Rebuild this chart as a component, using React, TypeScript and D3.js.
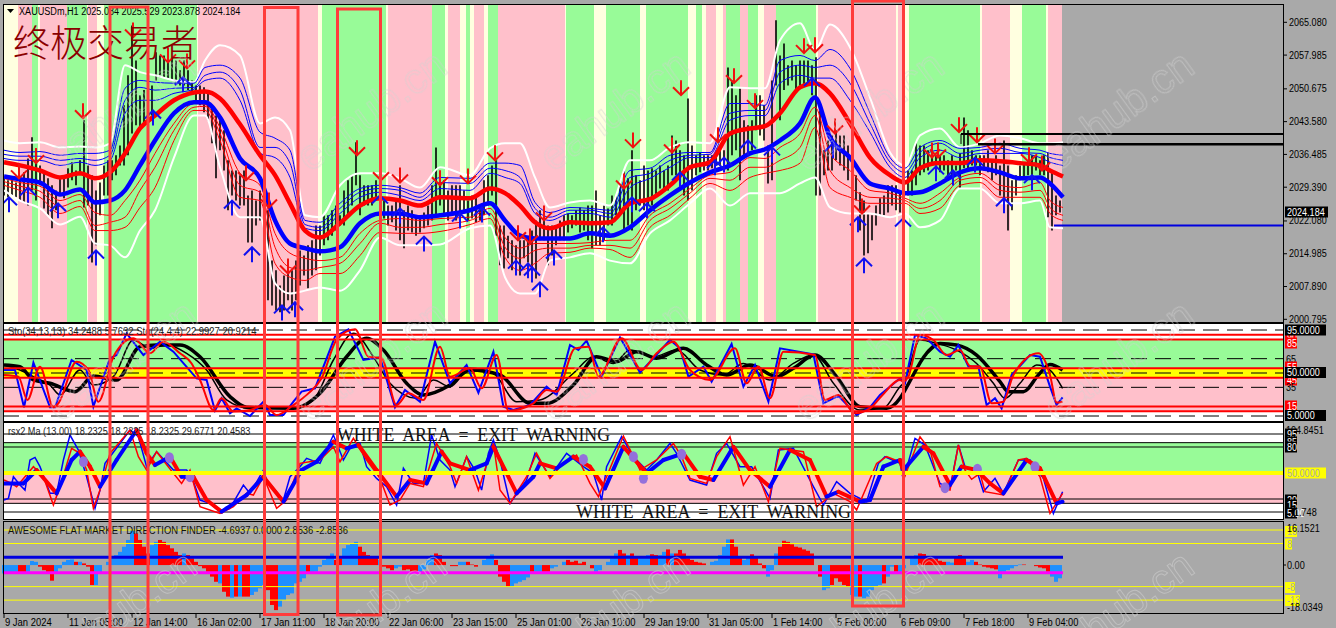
import React, { useEffect } from "react";
import * as d3 from "d3";

const W = 1336, H = 628;
const BG = "#a9a9a9", PINK = "#ffc0cb", GREEN = "#98fb98", CREAM = "#ffffe0";

// ---- background regime bands (bar index of each start, kind per band)
const bandStarts = [-0.5,7,14,17,18,31.5,41.5,42,46.5,50,96.5,97,157,159,191,192,214,220.5,222,228,231,233,235,240,242,247,280.5,281,295,301,318,321,342,346,349,351,356,359.5,361,368,372,377,380,386,406,407,446,447,450.5,452.5,488,489,503,509,521,522];
const bandKinds = "cpgcpgcpcgcpcgcpgcpcgcpcgpcgcgcgcgcpcpgpgcpgcpcpcgcpcgcp";
const bandEnd = 529;

// ---- price bars, one reading every second bar
const barHigh = [2031.5,2030.9,2031.3,2030.4,2031.7,2032.6,2035.6,2040.2,2036.3,2034.1,2032.6,2031.3,2029.8,2028.7,2031.3,2032,2033.5,2034.8,2033,2035.2,
2043.9,2034.1,2032,2028.7,2030.4,2034.1,2035.2,2035.2,2036.3,2038.4,2047.1,2053.6,2064.4,2056.8,2049.3,2050.4,2051.4,2051.4,2058.6,2057.9,
2057.9,2056.8,2057.3,2056.8,2054.7,2056.8,2054.7,2052.5,2051.4,2051.4,2051,2050.4,2047.1,2044.9,2043.9,2041.7,2035.2,2033,2033,2032,
2033,2027.6,2028.7,2026.5,2028.7,2028.3,2024.4,2013.5,2011.4,2008.1,2010.3,2012.5,2011.4,2013.5,2015.7,2014.6,2016.8,2017.9,2021.1,2021.1,
2023.3,2023.3,2024.4,2025.4,2023.3,2028.7,2030.9,2032,2039.1,2032,2029.8,2029.8,2029.8,2030.9,2027.6,2026.5,2025.4,2025.4,2026.5,2029.8,
2024.4,2025.4,2024.4,2023.3,2023.3,2023.9,2025.4,2029.8,2038,2032,2030.9,2028.7,
2029.8,2029.8,2029.8,2028.7,2026.5,2027.6,2027.6,2025.4,2030.9,2032,2034.1,2035.2,2021.1,2021.1,2018.9,2017.9,2016.8,2017.9,2017.9,2018.9,2020,2022.2,2024.4,2023.3,2021.1,2021.1,2021.1,2022.2,2023.3,2023.7,2023.3,2024.4,2025,2024.4,2025.4,2025.4,2028.7,2023.3,2025.4,2024.8,2027.6,2027.6,2029.8,2033,2031.3,2037.4,2032,2030.9,2034.1,2033,2033.5,2033,2034.1,2033,2034.1,2040.6,2039.5,2037.4,2036.3,2048.6,2038.4,2036.3,2036.9,2036.3,2036.3,2036.3,2036.9,2037.4,2037.4,2055.3,2052.5,2049.3,2050.8,2043.9,2042.8,2043.9,2049.3,2049.3,2047.1,2038.4,2052.5,2065.5,2057.9,2060.5,2055.8,2056.8,2055.8,2056.8,2056.8,2056.8,2055.8,2057.5,2046,2037.4,2039.5,2040.6,2041.7,2040.6,2040.6,2038.4,2037.4,2032,2028.3,2026.5,2023.7,2023.3,2025.4,2027,2027.6,2029.8,2029.8,2029.8,2028.7,2027.6,2033,2033,2038.9,2038.4,2038.4,2037.4,2036.3,2036.3,2036.3,2036.3,2035.2,2036.3,2034.1,2036.7,2044.5,2041.7,2037.4,2036.3,2036.3,2036.3,2037.4,2035.2,2036.3,2034.1,2039.5,2034.1,2030.9,2032,2034.1,2034.6,2035.2,2036.3,2036.3,2035.2,2036.3,2036.9,2033,2027.6,2026.5];
const barLow = [2027.6,2027.2,2027.6,2027.2,2026.5,2026.1,2025.4,2028.7,2026.5,2029.8,2024.8,2023.3,2020.5,2024.4,2027.6,2027,2029.3,2030.9,2029.8,2032,
2025,2025.4,2013.1,2016.8,2023.3,2027.6,2027.6,2030.9,2032,2034.1,2034.1,2036.3,2041,2042.8,2041.7,2042.8,2043.9,2044.9,2052.5,2053.6,
2053,2053,2052.5,2052.1,2051.4,2051.4,2050.4,2049.9,2048.2,2047.1,2045.6,2043.9,2038.9,2031.3,2037.4,2033,2024.4,2027.6,2026.5,2025.4,
2025.4,2017.4,2017.4,2021.1,2022.2,2023.3,2004.9,2003.8,2002.7,2002.3,2002.7,2004.9,2002.7,2004.9,2008.1,2010.3,2007.5,2010.3,2011.4,2014.6,
2016.8,2017.9,2018.9,2020,2021.1,2021.1,2023.3,2025.4,2029.8,2023.3,2025.4,2025.4,2025.4,2026.5,2024.4,2022.6,2021.1,2021.8,2020,2017.9,
2016.2,2020,2019.6,2018.9,2019.6,2020.5,2021.1,2022.2,2023.3,2025.4,2023.3,2022.2,
2023.3,2022.2,2023.3,2024.4,2022.2,2022.6,2021.8,2022.2,2023.3,2025.4,2027.6,2018.9,2012.5,2011.8,2014,2011.4,2013.5,2010.3,2014,2013.1,2011.4,2009.6,2017.9,2017.9,2012.5,2014.6,2016.8,2017.9,2017.9,2019.6,2020.5,2021.1,2019.6,2020,2017.9,2016.2,2016.8,2016.8,2017.9,2021.1,2021.1,2023.3,2023.3,2020,2021.1,2020,2024.4,2025.4,2024.4,2025.4,2025.4,2027.6,2029.1,2028.7,2028.7,2032,2032,2028.7,2027.6,2026.5,2028.7,2032,2032.6,2033,2033,2033.5,2034.1,2034.1,2033,2033,2036.3,2037.4,2030.9,2036.3,2037.4,2037.4,2041.7,2040.6,2039.5,2030.2,2030.9,2051.4,2043.9,2050.4,2051.4,2052.5,2050.4,2051.4,2051.4,2051.4,2049.3,2027.6,2027.6,2032,2033,2033,2035.2,2034.1,2033,2030.9,2029.8,2026.5,2020,2014.6,2015.1,2017.9,2021.1,2023.3,2023.3,2023.9,2025.4,2024.4,2023.9,2022.6,2027.6,2027.6,2029.8,2032,2032.6,2033,2034.1,2034.1,2032.6,2033,2032,2032,2033,2029.1,2033.5,2033.5,2034.1,2034.1,2032,2033,2032.6,2030.9,2032,2027.6,2026.5,2020,2024.4,2027.6,2030.9,2031.3,2032,2032,2033,2032,2032,2022.9,2020,2023.3,2023.9];

// ---- main-window indicator lines, read at these bars
const mainBars = [0,8,18,28,38,45.5,53,60.5,68,75.5,85,95,100.5,108,118,128,135.5,143,150.5,158,168,178,188,198,208,218,233,243,250.5,258,265.5,273,283,293,303,313,323,333,343,353,363,373,380.5,388,398,405.5,413,423,433,443,450.5,458,468,478,488,498,508,518,523,529.5];
const slowRed = [2034.8,2034.1,2033,2031.5,2032.4,2031.3,2032.6,2036.7,2042.1,2044.9,2048.2,2049.9,2050.1,2048.6,2043,2036.3,2032,2025.9,2020,2018.5,2021.6,2025.4,2027,2026.5,2025.4,2027.2,2027,2029.1,2028.1,2025.4,2021.8,2020.5,2021.8,2021.6,2021.8,2025.9,2026.8,2029.8,2033.7,2034.8,2041,2042.1,2042.6,2045.4,2051,2051.9,2049.7,2043.2,2035.8,2032,2030.4,2033.5,2034.6,2034.6,2035.2,2035,2034.6,2034.1,2033,2031.7];
const slowBlue = [2031.7,2031.1,2030.4,2027.8,2028.9,2026.1,2026.5,2028.7,2034.1,2039.5,2045.4,2047.8,2047.8,2044.5,2035.6,2031.3,2022.2,2017.2,2016.2,2015.5,2016.4,2021.6,2023.7,2023.7,2022.9,2023.3,2024.4,2025.9,2022.2,2018.9,2018.3,2018.3,2018.3,2019.4,2018.9,2020.7,2024.4,2027.6,2030.4,2032.6,2034.1,2036.7,2037.6,2039.5,2043.2,2048.8,2040.2,2035.8,2030.2,2029.1,2028.1,2028.3,2030.2,2032.6,2033.5,2032.6,2031.3,2031.5,2030.2,2027.2];
const upper1 = [2035.6,2035.2,2035.2,2034.1,2034.8,2034.1,2035.2,2045.4,2048.2,2048.2,2049.7,2050.6,2052.5,2053,2048.2,2036.7,2035.8,2031.5,2020.5,2020,2023.7,2027.2,2028.3,2027.6,2026.5,2029.1,2028.7,2032.4,2031.5,2030.2,2023.7,2022.2,2023.7,2023.7,2022.9,2029.3,2031.3,2033.7,2035.8,2035.8,2043.9,2044.9,2044.9,2051.9,2053.6,2053,2053,2048.2,2041.3,2033.7,2031.5,2035.8,2037.4,2035.8,2036.7,2036.7,2036.7,2035.8,2034.8,2034.1];
const upper2 = [2036.5,2036.1,2036.1,2035.2,2035.6,2035.2,2036.3,2048.2,2051,2050.4,2050.8,2051,2053.6,2054.3,2050.4,2038,2038,2034.6,2021.3,2020.7,2024.8,2028.3,2029.1,2028.7,2027.2,2030.4,2030.2,2033.5,2033,2031.5,2024.8,2022.9,2024.4,2024.4,2023.7,2031.5,2032.4,2035.2,2036.3,2036.5,2045.4,2046,2046,2054.3,2055.8,2055.3,2055.8,2051.9,2043.2,2034.8,2032.6,2036.9,2038.9,2036.7,2037.4,2037.8,2036.9,2036.7,2035.8,2035.2];
const upper3 = [2037.4,2036.9,2037.1,2036.3,2036.7,2036.7,2037.4,2050.8,2052.5,2052.1,2051.9,2051.9,2055.3,2055.8,2053,2041.3,2040,2037.4,2022.2,2021.8,2025.9,2029.1,2029.8,2029.3,2028.1,2031.5,2031.3,2034.6,2034.6,2034.1,2026.1,2023.9,2025,2024.8,2024.4,2033,2033.5,2036.3,2036.9,2036.9,2047.5,2047.5,2047.1,2056.8,2057.9,2056.8,2059.2,2055.1,2045.4,2035.8,2033.5,2038,2039.5,2037.8,2038,2038.9,2037.8,2037.4,2036.7,2036.3];
const upperWhite = [2039.5,2038.9,2039.1,2038,2038.2,2038,2038.9,2055.8,2054.3,2053.6,2052.5,2052.1,2056.8,2060.1,2057.9,2043.2,2044.5,2041.7,2023.3,2022.9,2029.8,2032.4,2032.4,2031.3,2029.3,2033.7,2032,2037.8,2038.9,2038.9,2031.5,2025,2026.1,2026.5,2025.4,2035.2,2035.2,2038,2039.1,2038.9,2051,2050.8,2050.8,2061.2,2064.9,2059,2064.6,2059.7,2048.8,2036.9,2034.1,2040.6,2042.1,2038,2038.9,2040.6,2040,2038.9,2038.9,2039.1];
const lower1 = [2031.3,2030.4,2029.6,2026.5,2027.8,2023.9,2023.3,2026.5,2030.9,2036.7,2043.2,2047.5,2047.3,2042.3,2032.4,2029.8,2019.4,2015.1,2014,2013.5,2014.2,2019.4,2022.2,2022.6,2022.2,2022.6,2022.9,2024.8,2018.5,2016.2,2017.2,2017.2,2017.2,2017.4,2017.9,2017.9,2023.3,2025.9,2029.1,2032,2032.6,2035.8,2035.6,2038,2041,2046.7,2036.7,2033,2028.7,2028.1,2027,2025.9,2028.1,2031.5,2032.4,2029.8,2029.3,2030.4,2026.5,2025];
const lower2 = [2030.6,2029.6,2028.5,2025.2,2026.5,2021.1,2021.8,2022.9,2028.7,2033.7,2041.7,2046.7,2046.9,2041,2029.8,2028.3,2016.4,2012,2011.4,2012,2012.9,2017.2,2021.6,2020.7,2020.7,2021.3,2022.2,2023.7,2016.4,2014,2015.7,2016.2,2016.2,2016.8,2016.8,2016.2,2022.2,2024.8,2028.1,2031.3,2030.9,2033.7,2033.7,2035.2,2038,2044.9,2033,2029.3,2027.2,2027,2026.5,2024.8,2026.5,2030.9,2031.5,2028.7,2028.3,2028.7,2025,2023.3];
const lower3 = [2029.8,2028.7,2027.2,2023.7,2025.2,2020,2020,2020.7,2025,2029.3,2039.5,2046,2046,2039.5,2027.2,2026.5,2012.9,2009.9,2009.2,2010.7,2010.7,2014.6,2019.6,2019.4,2019.4,2019.8,2021.3,2022.6,2014.2,2011.4,2012.9,2015.1,2015.3,2016.2,2015.9,2014.2,2020.7,2023.3,2027,2030.2,2028.7,2031.5,2032.4,2033,2034.6,2042.3,2029.3,2027.2,2025.9,2025.9,2025.9,2023.7,2024.8,2029.8,2030.4,2027.2,2027.2,2027.2,2023.7,2022.2];
const lowerWhite = [2028.7,2026.5,2024.8,2021.3,2023,2017.2,2016.8,2014.2,2020,2024.4,2035.8,2044.9,2044.9,2033.7,2022.9,2022.9,2008.6,2006.4,2007,2007.7,2007,2011.4,2018.5,2016.8,2016.8,2017,2020.5,2021.1,2009.9,2006.4,2006.4,2013.5,2014.2,2015.1,2013.5,2012.9,2019.4,2022.2,2025.9,2029.1,2025.4,2028.1,2028.1,2028.1,2030.2,2031.5,2025,2023.7,2023.7,2022.9,2023.7,2020.7,2022.2,2029.1,2029.1,2025.9,2025.9,2026.5,2020.7,2020.5];

// ---- signal arrows
const sellBars = [7.5,16,39.5,64.5,82,91.5,121,132.5,142,176.5,188.5,198,218,232,245.5,257,263,270,310,314.5,334,338.5,357,365,375.5,400,405.5,415.5,429,464,467,477.5,486.5,495.5,512.5,519];
const sellPrices = [2031.3,2034.6,2044.3,2061.8,2056.4,2055.1,2030.9,2025,2010.7,2036.3,2030.9,2030.4,2029.8,2030.2,2035.2,2017.9,2017.2,2022.2,2029.1,2038,2036.9,2049.3,2039.1,2051.9,2046.5,2058.4,2058.6,2041,2023.7,2035.8,2035.8,2041.3,2039.1,2036.7,2034.8,2033];
const buyBars = [2.5,12,27,46,74.5,89.5,114,124,139,145.5,188,198,210,228,239,256,262,264,268,275,299.5,314,321.5,338,355.5,360,372,384,404,414.5,427,430,449.5,466,474.5,485.5,500,514];
const buyPrices = [2027.2,2029.3,2025.9,2015.7,2046,2053.2,2026.5,2016.4,2003.8,2004.5,2027.6,2024.8,2018.7,2023.7,2025,2013.5,2012.9,2012,2008.8,2015.7,2020.7,2027.2,2025.9,2032.6,2035.2,2035.8,2039.5,2038,2053,2038.9,2022.9,2014,2022.6,2033.9,2033,2035.8,2027,2032];

// ---- stochastic panel
const stoFastBars = [0,5.5,10,14.7,23,25.5,33.8,41.3,44.7,53,56.3,61.3,69.7,78,84.7,96.3,101.3,105.5,108.8,113,116.3,123,129.7,133,139.7,144.7,148.8,155.5,165.5,172.2,179.7,188,195.5,200.5,208,215.5,223,231.3,237.2,244.7,249.7,254.7,263,271.3,276.3,283,287.2,291.3,298.8,308,318,324.7,333,338,342.2,349.7,353.8,363.8,369.7,375.5,382.2,388,404.7,409.7,417.2,426.3,433,438,448,450.5,455.5,461.3,468,473,477.2,482.2,487.2,491.3,495.5,498.8,503.8,513,518,523,526.3,529.3];
const stoFast = [53.1,53.1,14.1,60.8,14.1,14.1,63.6,53.1,14.8,65.4,68.8,91.5,68.8,82.8,72.3,44.4,42.7,10.6,23.5,7.8,13,5,20,6,6,20,30.5,34,88,95.7,63.6,66.4,14.1,32.2,20,82.8,39.2,58.4,29.4,72.3,14.8,11.3,16.5,35.7,27,79.3,74,83.8,46.2,87.3,50.4,65.4,84.6,75.8,46.2,56.7,41,80.4,35.7,58.4,20,75.8,69.5,18.3,26,6,14.1,27,44.4,39.2,89.8,86.3,72.3,67,79.3,56.7,56.7,16.5,23.5,13,48,68.8,67,35.7,16.5,24.5];
const stoSignalBars = [0,7.2,11.7,18,24.7,27.2,36.3,42.2,47.2,54.7,64.7,73,79.7,88,93.8,98,104.7,108.8,114.7,123,130.5,136.3,144.7,152.2,158.8,166.3,175.5,182.2,188.8,196.3,202.2,209.7,218,223,233,238.8,246.3,252.2,264.7,271.3,276.3,285.5,292.2,297.2,308.8,318.8,326.3,334.7,343,353,365.5,371.3,377.2,383,389.7,405.5,410.5,417.2,425.5,433,438.8,448,449.7,452.2,458,464.7,471.3,478,483,488,493.8,499.7,504.7,517.2,523,526.3,529.3];
const stoSignal = [47.9,46.2,21.8,56.6,14.1,18.3,61.9,53.1,20,67,86.3,70.6,82.8,70.6,60,42.7,11.3,23.5,9.6,11.3,16.5,6,16.5,28.7,44.4,84.6,95.7,67,65.4,16.5,28.7,21.8,77.6,46.2,54.9,34,68.8,10.6,18.3,32.2,30.5,75.8,77.6,46.2,86.3,53.1,70.6,82.8,53.1,42.7,75.8,39.2,56.7,23.5,72.3,68.8,21.8,27,7.8,13,26,42.7,41,46.2,89.8,84.6,68.8,74,57.3,56.7,18.3,20,48,70.6,48,19,20];
const stoSlowBars = [0,8,14.7,23,35.5,44.7,56.3,68,76.3,88,98,113,121.3,144.7,158,171.3,181.3,189.7,201.3,209.7,223,233,248,263,271.3,284.7,296.3,306.3,316.3,326.3,339.7,351.3,361.3,373,386.3,394.7,405.5,416.3,428,441.3,448,450.5,461.3,468,476.3,486.3,498,502.2,509.7,517.2,523,529.3];
const stoSlow = [58.4,56.6,42.7,39.2,30.5,46.9,42.7,77.6,79.3,79.3,67,25.3,14.1,13,28.7,67,86.3,74,39.2,27,37.4,53.1,47.9,18.3,18.3,37.4,67,61.9,72.3,65.4,75.8,58.4,47.9,58.4,46.2,54.9,68.8,46.2,14.8,13,23.5,32.2,70.6,81,79.3,68.8,41,30.5,30.5,48,59,53.1];
const stoSlowThinBars = [0,8,16.3,23,28,38,44.7,54.7,64.7,73,81.3,91.3,101.3,111.3,123,144.7,154.7,164.7,174.7,184.7,193,206.3,214.7,223,233,244.7,256.3,268,284.7,294.7,304.7,313,324.7,336.3,348,359.7,369.7,383,394.7,404.7,414.7,428,439.7,448,449.7,458,466.3,476.3,486.3,494.7,500.5,508,516.3,523,529.3];
const stoSlowThin = [58.4,53.1,44.4,37.4,27,53.1,37.4,46.2,84.6,75.8,79.3,70.6,53.1,21.8,13,13,21.8,63.6,91.5,67,39.2,23.5,42.7,35.7,54.9,49.7,20,21.8,49.7,67,60,74,67,74,53.1,47.9,60,42.7,60,68.8,39.2,11.3,13,35.7,39.2,84.6,81,74,60,39.2,23.5,39.2,58.4,53.1,34];

// ---- rsx panel
const rsxFastBars = [0,2.2,4.7,8,10.5,13,15.5,18,23,26.3,29.7,33,37.2,41.3,45.5,48,50.5,53,63,67.2,71.3,76.3,84.7,91.3,93.8,98,103,108,113,119.7,123,129.7,131.3,139.7,143,148,151.3,158,164.7,169.7,173,178,181.3,186.3,191.3,196.3,199.7,204.7,209.7,213.8,218,223,225.5,228.8,231.3,235.5,238.8,242.2,244.7,248,253,261.3,265.5,273,281.3,289.7,294.7,298.8,301.3,308.8,314.7,321.3,326.3,333,336.3,343,351.3,356.3,361.3,368,373.8,383,387.2,394.7,404.7,409.7,416.3,423,431.3,437.2,440.5,448,449.7,455.5,460.5,468,473,477.2,480.5,486.3,489.7,495.5,499.7,507.2,513,519.7,524.7,529.3];
const rsxFast = [18.8,20.7,45.7,36.1,30.3,65,68,57.3,26.5,26.5,65,93.8,76.5,45.7,9.2,30.3,61.1,68.8,99.6,91.9,57.3,74.6,53.4,53.4,45.7,18.8,15,5.4,9.2,36.1,26.5,53.4,41.9,18.8,45.7,57.3,66.9,61.1,93.8,65,78.4,84.2,57.3,43.8,34.2,13,55.4,38,38,93.8,65,53.4,34.2,53.4,68.8,53.4,30.3,72.7,88,65,15,41.9,72.7,45.7,72.7,57.3,49.6,18.8,57.3,91.9,68.8,53.4,65,84.2,72.7,41.9,36.1,72.7,84.2,57.3,57.3,20.7,76.5,78.4,34.2,13,40,26.5,16.9,61.1,68.8,61.1,41.9,90,82.3,38,32.3,82.3,57.3,53.4,28.4,43.8,26.5,65,65,43.8,3.4,28.4];
const rsxSignalBars = [0,3.8,6.3,14.7,19.7,24.7,28,33.8,38,41.3,44.7,48,53,63,67.2,71.3,76.3,84.7,88.8,93,98,108,114.7,121.3,124.7,129.7,136.3,141.3,148,158,164.7,168,174.7,181.3,188,193,198,203,209.7,216.3,223,226.3,231.3,237.2,244.7,248,253,261.3,266.3,273,278,286.3,293,297.2,309.7,318,326.3,334.7,338.8,343,351.3,356.3,363,369.7,375.5,382.2,388,399.7,406.3,414.7,423,426.3,436.3,441.3,448,449.7,458,463,468,473,477.2,480.5,483.8,488,490.5,499.7,507.2,511.3,518,523,529.3];
const rsxSignal = [41.9,38,34.2,57.3,45.7,13,34.2,78.4,72.7,53.4,9.2,30.3,72.7,99.6,68.8,53.4,74.6,49.6,38,53.4,11.1,3.4,11.1,26.5,24.6,45.7,9.2,18.8,61.1,65,80.3,63,90,65,43.8,13,18.8,38,34.2,84.2,57.3,38,68.8,30.3,84.2,30.3,15,45.7,72.7,43.8,57.3,70.7,38,22.7,92.6,53.4,65,84.2,68.8,43.8,38,68.8,91.9,36.1,57.3,16.9,78.4,74.6,11.1,26.5,16.9,7.3,61.1,68.8,63,41.9,91.9,76.5,34.2,30.3,82.3,53.4,42.7,49.6,28.4,24.6,65,66.9,45.7,3.4,26.5];
const rsxThickBars = [0,9.7,16.3,26.3,33.8,38,43,48,56.3,66.3,71.3,75.5,83,88.8,94.7,101.3,108.8,111.3,121.3,129.7,139.7,148.8,156.3,164.7,171.3,177.2,186.3,196.3,203,211.3,218.8,223,233,241.3,244.7,256.3,264.7,268,276.3,284.7,293,300.5,309.7,321.3,329.7,339.7,348,354.7,364.7,373,383,393,403,411.3,417.2,428,433,439.7,448,449.7,459.7,464.7,473,478.8,486.3,493,499.7,511.3,518,526.3,529.3];
const rsxThick = [38,38,53.4,26.5,65,74.6,57.3,34.2,65,99.6,72.7,59.2,68.8,45.7,45.7,18.8,5.4,9.2,24.6,45.7,16.9,53.4,63,86.1,78.4,82.3,53.4,22.7,41.9,38,74.6,61.1,53.4,61.1,80.3,26.5,45.7,61.1,55.4,68.8,57.3,32.3,80.3,49.6,65,72.7,45.7,41.9,80.3,53.4,34.2,76.5,65,22.7,28.4,16.9,18.8,57.3,65,53.4,80.3,72.7,36.1,57.3,53.4,38,26.5,65,55.4,15,16.9];
const dotBars = [39.7,82.7,93,289.7,314.7,319.7,338.8,470.5,486.7,515.5];
const dotValues = [63,67.6,45.7,65.7,68.8,43.8,71.5,33,54.2,57.3];

// ---- awesome flat market histogram, one reading every second bar
const aoValues = [-3.1,-3.1,-3.1,-3.1,-3.1,-3.1,-2.5,1.5,1.2,-0.6,-1.9,-3.1,-5.8,-3.1,-1.2,1.2,1.9,2.1,1.2,1.2,0.6,-0.6,-7.4,-7.4,-3.1,0,1.2,3.1,3.7,4.9,6.8,9.3,13,11.7,9.3,6.8,4.3,7.4,8.6,9.3,8.6,7.4,6.2,4.9,3.7,4.3,3.7,2.5,1.2,-0.4,-1.2,-2.5,-4.3,-6.2,-6.8,-9.9,-11.7,-12.1,-11.7,-11.7,-11.7,-11.7,-11.1,-9.9,-8.6,-7.4,-9.3,-14.8,-16.7,-15.4,-13,-11.1,-10.5,-6.8,-6.2,-4.9,-3.1,-3.1,-2.5,-0.6,1.9,3.1,4.3,1.9,2.5,6.2,7.4,8,8.6,6.8,4.9,3.7,3.3,3.1,1.9,-0.6,-1.2,-1.9,-1.2,-0.6,-1.9,-1.6,-2.5,-2.5,-2.5,-1.6,1.9,3.7,4.3,3.7,1.2,0,
-0.4,-0.4,1.2,1.2,1.2,0.2,-0.6,0,1.9,3.1,4,1.9,-4.3,-6.2,-8,-8,-6.8,-6.2,-5.6,-4.6,-2.5,-2.5,-2.5,-2.5,-2.5,-1.2,-0.6,0,1.2,1.9,1.2,1.6,0.6,1.2,0,-1.2,-2.5,-1.9,0,1.2,2.5,4.3,5.6,4.3,3.7,4.3,2.8,3.1,3.1,3.7,4,3.7,3.7,4.9,5.8,4.3,4.3,5.6,4.3,2.5,1.9,1.2,0.9,0.6,0,1.2,1.6,3.7,6.8,9.5,9.5,6.8,3.1,1.9,3.1,4,3.1,0.6,-1.2,-4.3,-1.9,4.3,6.8,9,8.6,7.7,6.8,6.5,5.8,5.3,4.3,0,-4.3,-9.3,-8.6,-7.4,-4.9,-6.2,-7.4,-8,-11.1,-11.7,-11.7,-12.3,-11.7,-9.3,-8,-7.4,-6.8,-4.3,-0.6,-2.5,-2.5,-1.2,0,2.5,3.7,4.3,4.1,3.1,2.8,2.5,1.6,1.2,1.2,0.9,3.1,3.7,2.5,1.2,1.9,1.2,0.2,-0.6,-0.9,-1.2,-1.6,-4.9,-2.5,-1.9,-1.2,-0.4,0.2,0.2,0,0,-0.4,-0.9,-1.2,-2.5,-4.3,-6.2,-4.9];
const aoKinds = "bbbbrrbbbrrrrbbbbbrbrrrbbbbbbbbbbrrrrbbrrrrrrbrrrrrrrrbrrbrbrrbbbbrrrbbbbbbbrbbbbbbrrbbbbrrrrrbrrrbbrrrrbbbbrrrrrrbbrrrbbbbrrrrbbbbbrbbrrbbbbrrrrrrrbbbbbbrrbrrbbbrrbbrbrrrrrrrrbbbbbbrrrbbrrrrbbbrrrrrrrrrrrbbrrrrrbbrbbbbbrbbrbbbbbrrrrrrrbbrrrbbrrrrrrbbbbbbrrrrrrrbb";

// ---- levels and labels
const priceTicks = [2065.08,2057.985,2050.675,2043.58,2036.485,2029.39,2022.08,2014.985,2007.89,2000.795];
const timeLabels = ["9 Jan 2024","11 Jan 05:00","12 Jan 14:00","16 Jan 02:00","17 Jan 11:00","18 Jan 20:00","22 Jan 06:00","23 Jan 15:00","25 Jan 01:00","26 Jan 10:00","29 Jan 19:00","31 Jan 05:00","1 Feb 14:00","5 Feb 00:00","6 Feb 09:00","7 Feb 18:00","9 Feb 04:00"];
const stoDashed = [95,65,50,35,5];
const stoRed = [90,85,55,45,15,10];
const rsxLevels = [95,85,80,20,15,5];
const aoLevels = [13,8,-8,-13];
const aoBlue = 2.8536, aoMagenta = -2.8536;
const resistance1 = 2040.9, resistance2 = 2038.7, supportLine = 2021.1;

// ---- layout
const xBar = d3.scaleLinear().domain([0, 530]).range([4, 1064]);
const yPrice = d3.scaleLinear().domain([2000.795, 2065.08]).range([319.3, 22.3]);
const ySto = d3.scaleLinear().domain([5, 95]).range([416, 330]);
const yRsx = d3.scaleLinear().domain([5, 95]).range([512, 434]);
const yAo = d3.scaleLinear().domain([-18.0349, 16.1521]).range([613.7, 521.5]);
const left = 3, right = 1283;

const SANS = "'Liberation Sans', Arial, sans-serif";
const makeLine = (bars: number[], vals: number[], y: any, curve: any = d3.curveMonotoneX) =>
  d3.line<number>().x((_, i) => xBar(bars[i])).y((v) => y(v)).curve(curve)(vals) as string;

const charW = (c: string) => /[0-9]/.test(c) ? 5 : /[.: ]/.test(c) ? 2.7 : /[,()\-]/.test(c) ? 3 : /[A-Z]/.test(c) ? 6.3 : 5;
const T = ({ x, y, s, fill = "#000", anchor = "start" }: any) => (
  <text x={x} y={y} fill={fill} fontFamily={SANS} fontSize={10} textAnchor={anchor} textLength={[...s].reduce((a: number, c: string) => a + charW(c), 0)} lengthAdjust="spacingAndGlyphs">{s}</text>
);
const Tag = ({ y, s, bg, fg, x = 1285, w }: any) => (
  <g>
    <rect x={x} y={y - 5.5} width={w} height={11} fill={bg} />
    <T x={x + 2} y={y + 3.5} s={s} fill={fg} />
  </g>
);

function BarsLayer() {
  return (
    <g stroke="#000" strokeWidth={1.6}>
      {barHigh.map((h, i) => (
        <line key={i} x1={xBar(i * 2)} x2={xBar(i * 2)} y1={yPrice(h)} y2={yPrice(barLow[i])} />
      ))}
    </g>
  );
}

function Thick({ bars, vals, y }: any) {
  return (
    <g fill="none" strokeWidth={4} strokeLinecap="round">
      {vals.slice(1).map((v: number, i: number) => (
        <line key={i} x1={xBar(bars[i])} y1={y(vals[i])} x2={xBar(bars[i + 1])} y2={y(v)} stroke={v < vals[i] ? "#ff0000" : "#0000ff"} />
      ))}
    </g>
  );
}

export default function App() {
  useEffect(() => { document.body.style.margin = "0"; document.body.style.background = BG; }, []);
  const bandColor: any = { c: CREAM, p: PINK, g: GREEN };
  const wm: any[] = [];
  [60, 310, 553, 807, 1057].forEach((x) => [173, 423, 673].forEach((y) => wm.push([x, y])));
  return (
    <svg width={W} height={H} viewBox={`0 0 ${W} ${H}`} style={{ display: "block", background: BG }}>
      <defs>
        <clipPath id="cMain"><rect x={left} y={4} width={right - left} height={318} /></clipPath>
        <clipPath id="cSto"><rect x={left} y={324} width={right - left} height={97} /></clipPath>
        <clipPath id="cRsx"><rect x={left} y={423} width={right - left} height={96} /></clipPath>
      </defs>

      {/* main window */}
      <g clipPath="url(#cMain)">
        {bandStarts.map((s, i) => {
          const e = i + 1 < bandStarts.length ? bandStarts[i + 1] : bandEnd;
          return <rect key={i} x={xBar(s)} y={4} width={xBar(e) - xBar(s)} height={318} fill={bandColor[bandKinds[i]]} />;
        })}
        <BarsLayer />
        <g fill="none">
          <path d={makeLine(mainBars, upperWhite, yPrice)} stroke="#fff" strokeWidth={2} />
          <path d={makeLine(mainBars, lowerWhite, yPrice)} stroke="#fff" strokeWidth={2} />
          {[upper1, upper2, upper3].map((u, i) => <path key={i} d={makeLine(mainBars, u, yPrice)} stroke="#0000ff" strokeWidth={1} />)}
          {[lower1, lower2, lower3].map((u, i) => <path key={i} d={makeLine(mainBars, u, yPrice)} stroke="#ff0000" strokeWidth={1} />)}
          <path d={makeLine(mainBars, slowRed, yPrice)} stroke="#ff0000" strokeWidth={4.5} />
          <path d={makeLine(mainBars, slowBlue, yPrice)} stroke="#0000ff" strokeWidth={4.5} />
        </g>
        <g fill="none" stroke="#f01010" strokeWidth={2}>
          {sellBars.map((b, i) => {
            const x = xBar(b), y = yPrice(sellPrices[i]);
            return <path key={i} d={`M${x},${y - 15}V${y}M${x - 8},${y - 8}L${x},${y}L${x + 8},${y - 8}`} />;
          })}
        </g>
        <g fill="none" stroke="#1010f0" strokeWidth={2}>
          {buyBars.map((b, i) => {
            const x = xBar(b), y = yPrice(buyPrices[i]);
            return <path key={i} d={`M${x},${y + 15}V${y}M${x - 8},${y + 8}L${x},${y}L${x + 8},${y + 8}`} />;
          })}
        </g>
        <path d={`M${xBar(478.5)},${yPrice(resistance1) + 10}V${yPrice(resistance1)}H${right}`} fill="none" stroke="#000" strokeWidth={1} />
        <line x1={xBar(478.5)} x2={right} y1={yPrice(resistance1)} y2={yPrice(resistance1)} stroke="#000" strokeWidth={2} />
        <line x1={xBar(487)} x2={right} y1={yPrice(resistance2)} y2={yPrice(resistance2)} stroke="#000" strokeWidth={2.5} />
        <line x1={xBar(525)} x2={right} y1={yPrice(supportLine)} y2={yPrice(supportLine)} stroke="#0000e0" strokeWidth={2} />
      </g>
      <text x={13} y={57} fill="#8b0000" fontFamily="'Noto Sans CJK SC'" fontWeight={300} fontSize={37}>终极交易者</text>
      <path d="M7,9H14L10.5,13Z" fill="#000" />
      <T x={19} y={15} s="XAUUSDm,H1  2025.084 2025.529 2023.878 2024.184" />

      {/* stochastic window */}
      <g clipPath="url(#cSto)">
        <rect x={left} y={324} width={right - left} height={97} fill="#fff" />
        <rect x={left} y={ySto(85)} width={right - left} height={ySto(55) - ySto(85)} fill={GREEN} />
        <rect x={left} y={ySto(55)} width={right - left} height={ySto(45) - ySto(55)} fill="#ffff00" />
        <rect x={left} y={ySto(45)} width={right - left} height={ySto(10) - ySto(45)} fill={PINK} />
        {stoDashed.map((v) => <line key={v} x1={left} x2={right} y1={ySto(v)} y2={ySto(v)} stroke="#000" strokeWidth={1} strokeDasharray="16 8" />)}
        <g fill="none">
          <path d={makeLine(stoSlowBars, stoSlow, ySto)} stroke="#000" strokeWidth={3.5} />
          <path d={makeLine(stoSlowThinBars, stoSlowThin, ySto)} stroke="#000" strokeWidth={1.5} />
          <path d={makeLine(stoFastBars, stoFast, ySto, d3.curveLinear)} stroke="#0000ff" strokeWidth={2} />
          <path d={makeLine(stoSignalBars, stoSignal, ySto, d3.curveMonotoneX)} stroke="#ff0000" strokeWidth={2} />
        </g>
        {stoRed.map((v) => <line key={v} x1={left} x2={right} y1={ySto(v)} y2={ySto(v)} stroke="#ff0000" strokeWidth={2} />)}
      </g>
      <T x={8} y={335} s="Sto(34,13,13) 34.2488 5.7632  Sto(24,4,4) 22.9927 20.9214" fill="#222" />

      {/* rsx window */}
      <g clipPath="url(#cRsx)">
        <rect x={left} y={423} width={right - left} height={96} fill="#fff" />
        <rect x={left} y={yRsx(85)} width={right - left} height={yRsx(50) - yRsx(85)} fill={GREEN} />
        <rect x={left} y={yRsx(50)} width={right - left} height={yRsx(15) - yRsx(50)} fill={PINK} />
        {rsxLevels.map((v) => <line key={v} x1={left} x2={right} y1={yRsx(v)} y2={yRsx(v)} stroke="#000" strokeWidth={1} />)}
        <g fill="none">
          <path d={makeLine(rsxFastBars, rsxFast, yRsx, d3.curveLinear)} stroke="#0000ff" strokeWidth={1.5} />
          <path d={makeLine(rsxSignalBars, rsxSignal, yRsx, d3.curveLinear)} stroke="#ff0000" strokeWidth={1.5} />
        </g>
        <Thick bars={rsxThickBars} vals={rsxThick} y={yRsx} />
        {dotBars.map((b, i) => <ellipse key={i} cx={xBar(b)} cy={yRsx(dotValues[i])} rx={4.5} ry={5.5} fill="#9370db" />)}
        <line x1={left} x2={right} y1={yRsx(50)} y2={yRsx(50)} stroke="#ffff00" strokeWidth={4} />
      </g>
      <T x={8} y={435} s="rsx2 Ma (13.00) 18.2325 18.2325 18.2325 29.6771 20.4583" fill="#222" />
      <text x={337} y={441} fontFamily="'Liberation Serif', serif" fontSize={19} fill="#111" textLength={273} lengthAdjust="spacingAndGlyphs" xmlSpace="preserve">WHITE  AREA  =  EXIT  WARNING</text>
      <text x={576} y={518} fontFamily="'Liberation Serif', serif" fontSize={19} fill="#111" textLength={275} lengthAdjust="spacingAndGlyphs" xmlSpace="preserve">WHITE  AREA  =  EXIT  WARNING</text>

      {/* histogram window */}
      <g>
        {aoValues.map((v, i) => {
          const y0 = yAo(0), y1 = yAo(v);
          return <rect key={i} x={xBar(i * 2) - 2} width={4} y={Math.min(y0, y1)} height={Math.abs(y1 - y0)} fill={aoKinds[i] === "r" ? "#ff0000" : "#1e90ff"} />;
        })}
        {aoLevels.map((v) => <line key={v} x1={left} x2={right} y1={yAo(v)} y2={yAo(v)} stroke="#ffff00" strokeWidth={1} />)}
        <line x1={left} x2={xBar(529.5)} y1={yAo(aoBlue)} y2={yAo(aoBlue)} stroke="#0000e0" strokeWidth={3} />
        <line x1={left} x2={xBar(529.5)} y1={yAo(aoMagenta)} y2={yAo(aoMagenta)} stroke="#ff00ff" strokeWidth={3} />
      </g>
      <T x={8} y={534} s="AWESOME FLAT MARKET DIRECTION FINDER -4.6937 0.0000 2.8536 -2.8536" fill="#111" />

      {/* panel frames */}
      <g fill="none" stroke="#000" strokeWidth={1}>
        <rect x={3.5} y={4.5} width={1280} height={318} />
        <rect x={3.5} y={323.5} width={1280} height={98} />
        <rect x={3.5} y={422.5} width={1280} height={97} />
        <rect x={3.5} y={521.5} width={1280} height={92} />
      </g>

      {/* price axis */}
      {priceTicks.map((p) => (
        <g key={p}>
          <line x1={1283} x2={1287} y1={yPrice(p)} y2={yPrice(p)} stroke="#000" />
          <T x={1289} y={yPrice(p) + 3.5} s={p.toFixed(3)} />
        </g>
      ))}
      <Tag y={212} s="2024.184" bg="#000" fg="#fff" w={43} />

      {/* stochastic labels */}
      <Tag y={337.5} s="90" bg="#ff0000" fg="#fff" w={12} />
      <Tag y={343} s="85" bg="#ff0000" fg="#fff" w={12} />
      <Tag y={330} s="95.0000" bg="#000" fg="#fff" w={41} />
      <T x={1286} y={363} s="65" />
      <Tag y={367} s="55" bg="#ff0000" fg="#fff" w={12} />
      <Tag y={380} s="45" bg="#ff0000" fg="#fff" w={12} />
      <Tag y={372.5} s="50.0000" bg="#000" fg="#fff" w={41} />
      <T x={1286} y={391} s="35" />
      <Tag y={406} s="15" bg="#ff0000" fg="#fff" w={12} />
      <Tag y={415.5} s="5.0000" bg="#000" fg="#fff" w={41} />

      {/* rsx labels */}
      <T x={1286} y={434} s="104.8451" />
      <Tag y={434} s="95" bg="#000" fg="#fff" w={12} />
      <Tag y={442} s="85" bg="#000" fg="#fff" w={12} />
      <Tag y={447} s="80" bg="#000" fg="#fff" w={12} />
      <Tag y={473} s="50.0000" bg="#ffff00" fg="#a9a9a9" w={41} />
      <Tag y={500} s="20" bg="#000" fg="#fff" w={12} />
      <Tag y={505} s="15" bg="#000" fg="#fff" w={12} />
      <Tag y={513} s="5.00" bg="#000" fg="#fff" w={12} />
      <T x={1291} y={516} s="-1.748" />

      {/* histogram labels */}
      <Tag y={531.5} s="13" bg="#ffff00" fg="#a9a9a9" w={12} />
      <T x={1287} y={532} s="16.1521" />
      <Tag y={544} s="8" bg="#ffff00" fg="#a9a9a9" w={7} />
      <line x1={1283} x2={1286} y1={565} y2={565} stroke="#000" />
      <T x={1287} y={568.5} s="0.00" />
      <Tag y={587.5} s="-8" bg="#ffff00" fg="#a9a9a9" w={10} />
      <Tag y={600.5} s="-13" bg="#ffff00" fg="#a9a9a9" w={15} />
      <T x={1287} y={611} s="-18.0349" />

      {/* time axis */}
      {timeLabels.map((t, i) => (
        <g key={t}>
          <line x1={xBar(i * 32)} x2={xBar(i * 32)} y1={614} y2={618} stroke="#000" />
          <T x={xBar(i * 32) + 1} y={626} s={t} />
        </g>
      ))}

      {/* watermark */}
      <g fontFamily={SANS} fontSize={42} fill="none" stroke="#d2d2d2" strokeWidth={1} opacity={0.55}>
        {wm.map(([x, y]) => (
          <text key={`${x}-${y}`} transform={`translate(${x},${y}) rotate(-36)`}>eahub.cn</text>
        ))}
      </g>

      {/* analyst rectangles */}
      <g fill="none" stroke="#ff3b3b" strokeWidth={3}>
        <rect x={110} y={7} width={38} height={622} />
        <rect x={264.5} y={7.5} width={33.5} height={607} />
        <rect x={337.5} y={9} width={43} height={606} />
        <rect x={852.5} y={1} width={51} height={605} />
      </g>
    </svg>
  );
}
